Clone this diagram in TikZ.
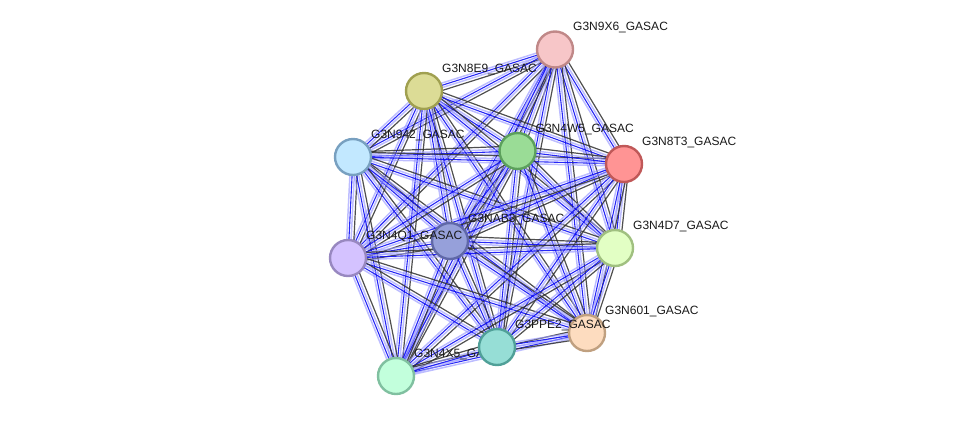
\documentclass[tikz,border=0pt]{standalone}
\usepackage{fontspec}
\setmainfont{Liberation Sans}
\usetikzlibrary{calc}
\pgfdeclarelayer{bg}
\pgfsetlayers{bg,main}
\definecolor{f9X6}{HTML}{F7C6C8}\definecolor{b9X6}{HTML}{C08888}
\definecolor{f8E9}{HTML}{DCDC96}\definecolor{b8E9}{HTML}{A0A050}
\definecolor{f942}{HTML}{C2E8FF}\definecolor{b942}{HTML}{78A0C0}
\definecolor{f4W5}{HTML}{9ADC96}\definecolor{b4W5}{HTML}{5CA05C}
\definecolor{f8T3}{HTML}{FF9494}\definecolor{b8T3}{HTML}{C05858}
\definecolor{fNAB3}{HTML}{96A0DA}\definecolor{bNAB3}{HTML}{6068A8}
\definecolor{f4Q1}{HTML}{D4C2FF}\definecolor{b4Q1}{HTML}{9888C0}
\definecolor{f4D7}{HTML}{E2FFC4}\definecolor{b4D7}{HTML}{A0C080}
\definecolor{f601}{HTML}{FDDCBF}\definecolor{b601}{HTML}{C0A080}
\definecolor{fPPE2}{HTML}{96DED6}\definecolor{bPPE2}{HTML}{50A098}
\definecolor{f4X5}{HTML}{C2FFDC}\definecolor{b4X5}{HTML}{80C0A0}
\definecolor{elb}{HTML}{9A9AFF}
\definecolor{eb}{HTML}{1010F5}
\definecolor{ek}{HTML}{303030}
\tikzset{
  prot/.style={circle, minimum size=36pt, inner sep=0pt, line width=2.4pt},
  lbl/.style={anchor=west, inner sep=0pt, font=\fontsize{12}{14}\selectfont, text=black!90},
  elight/.style={line width=1.5pt, draw=elb, opacity=0.65},
  eblue/.style={line width=1.1pt, draw=eb, opacity=0.9},
  eblack/.style={line width=1.2pt, draw=ek, opacity=0.85},
}
\newcommand\ebundle[2]{%
  \draw[elight] ($(#1.center)!2.2pt!-90:(#2.center)$) -- ($(#2.center)!2.2pt!90:(#1.center)$);
  \draw[elight] ($(#1.center)!2.2pt!90:(#2.center)$) -- ($(#2.center)!2.2pt!-90:(#1.center)$);
  \draw[eblue] (#1.center) -- (#2.center);
  \draw[eblack] ($(#1.center)!5pt!90:(#2.center)$) -- ($(#2.center)!5pt!-90:(#1.center)$);
}
\newcommand\prot[4]{%
  \node[prot, fill=f#1, draw=b#1] (n#1) at (#2,#3) {};
  \node[lbl] (l#1) at ($(n#1)+(18,-22)$) {#4};
}
\begin{document}
\begin{tikzpicture}[x=1pt,y=-1pt]
\useasboundingbox (0,0) rectangle (976,421);
\prot{9X6}{555}{49.5}{G3N9X6\_GASAC}
\prot{8E9}{424}{91}{G3N8E9\_GASAC}
\prot{942}{353}{157}{G3N942\_GASAC}
\prot{4W5}{517.5}{151}{G3N4W5\_GASAC}
\prot{8T3}{624}{164}{G3N8T3\_GASAC}
\prot{NAB3}{450}{241}{G3NAB3\_GASAC}
\prot{4Q1}{348}{258}{G3N4Q1\_GASAC}
\prot{4D7}{615}{248}{G3N4D7\_GASAC}
\prot{4X5}{396}{376}{G3N4X5\_GASAC}
\prot{601}{587}{333}{G3N601\_GASAC}
\prot{PPE2}{497}{347}{G3PPE2\_GASAC}
\begin{pgfonlayer}{bg}
\foreach \a [count=\i] in {n9X6,n8E9,n942,n4W5,n8T3,nNAB3,n4Q1,n4D7,n4X5,n601,nPPE2}{
  \foreach \b [count=\j] in {n9X6,n8E9,n942,n4W5,n8T3,nNAB3,n4Q1,n4D7,n4X5,n601,nPPE2}{
    \ifnum\j>\i\relax \ebundle{\a}{\b}\fi
  }
}
\end{pgfonlayer}
\end{tikzpicture}
\end{document}
